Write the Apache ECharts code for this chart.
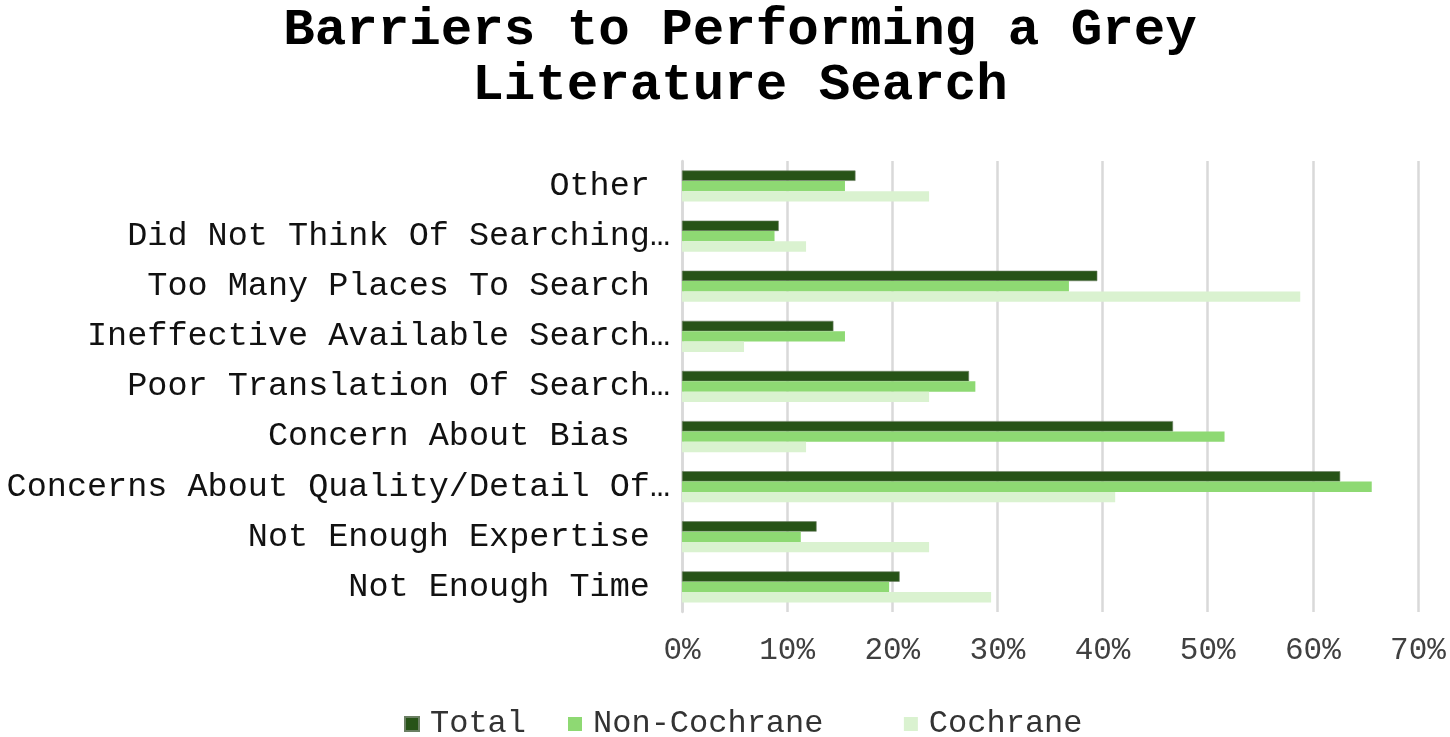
<!DOCTYPE html>
<html>
<head>
<meta charset="utf-8">
<script src="https://cdn.jsdelivr.net/npm/echarts@6/dist/echarts.min.js"></script>
<style>html,body{margin:0;padding:0;background:#fff}#c{width:1450px;height:737px}</style>
</head>
<body>
<div id="c"></div>
<script>
const categories = [
  'Not Enough Time ',
  'Not Enough Expertise ',
  'Concerns About Quality/Detail Of\u2026',
  'Concern About Bias  ',
  'Poor Translation Of Search\u2026',
  'Ineffective Available Search\u2026',
  'Too Many Places To Search ',
  'Did Not Think Of Searching\u2026',
  'Other '
];
const totalValues = [20.7, 12.8, 62.6, 46.7, 27.3, 14.4, 39.5, 9.2, 16.5];
const nonCochraneValues = [19.7, 11.3, 65.6, 51.6, 27.9, 15.5, 36.8, 8.8, 15.5];
const cochraneValues = [29.4, 23.5, 41.2, 11.8, 23.5, 5.9, 58.8, 11.8, 23.5];
const xTicks = { min: 0, max: 70, interval: 10 };

const FONT = 'Liberation Mono, Courier New, monospace';
const chart = echarts.init(document.getElementById('c'));
chart.setOption({
  animation: false,
  title: {
    text: 'Barriers to Performing a Grey\nLiterature Search',
    left: 735,
    textAlign: 'center',
    top: -2,
    textStyle: { fontFamily: FONT, fontWeight: 'bold', fontSize: 52.5, lineHeight: 55, color: '#000' }
  },
  legend: {
    data: ['Total', 'Non-Cochrane', 'Cochrane'],
    top: 703,
    left: 399,
    itemWidth: 14,
    itemHeight: 14,
    itemGap: 42,
    icon: 'rect',
    formatter: function (n) { return n === 'Non-Cochrane' ? n + '  ' : n; },
    textStyle: { fontFamily: FONT, fontSize: 32, color: '#333', padding: [0, 0, 0, 6] }
  },
  grid: { left: 682, right: 32, top: 161, bottom: 125, containLabel: false },
  xAxis: {
    type: 'value',
    min: xTicks.min, max: xTicks.max, interval: xTicks.interval,
    axisLine: { show: false },
    axisTick: { show: false },
    axisLabel: { formatter: '{value}%', fontFamily: FONT, fontSize: 31, color: '#404040', margin: 23 },
    splitLine: { show: true, lineStyle: { color: '#d9d9d9', width: 2.5 } }
  },
  yAxis: {
    type: 'category',
    data: categories,
    axisLine: { show: true, lineStyle: { color: '#d9d9d9', width: 2.5 } },
    axisTick: { show: false },
    axisLabel: { fontFamily: FONT, fontSize: 33.5, color: '#111', margin: 12 }
  },
  series: [
    { name: 'Total', type: 'bar', data: totalValues, itemStyle: { color: '#275317', borderColor: '#6b7f63', borderWidth: 0.6 }, barGap: '0%', barCategoryGap: '38%' },
    { name: 'Non-Cochrane', type: 'bar', data: nonCochraneValues, itemStyle: { color: '#8ed973' }, barGap: '0%', barCategoryGap: '38%' },
    { name: 'Cochrane', type: 'bar', data: cochraneValues, itemStyle: { color: '#daf2d0' }, barGap: '0%', barCategoryGap: '38%' }
  ]
});
</script>
</body>
</html>
